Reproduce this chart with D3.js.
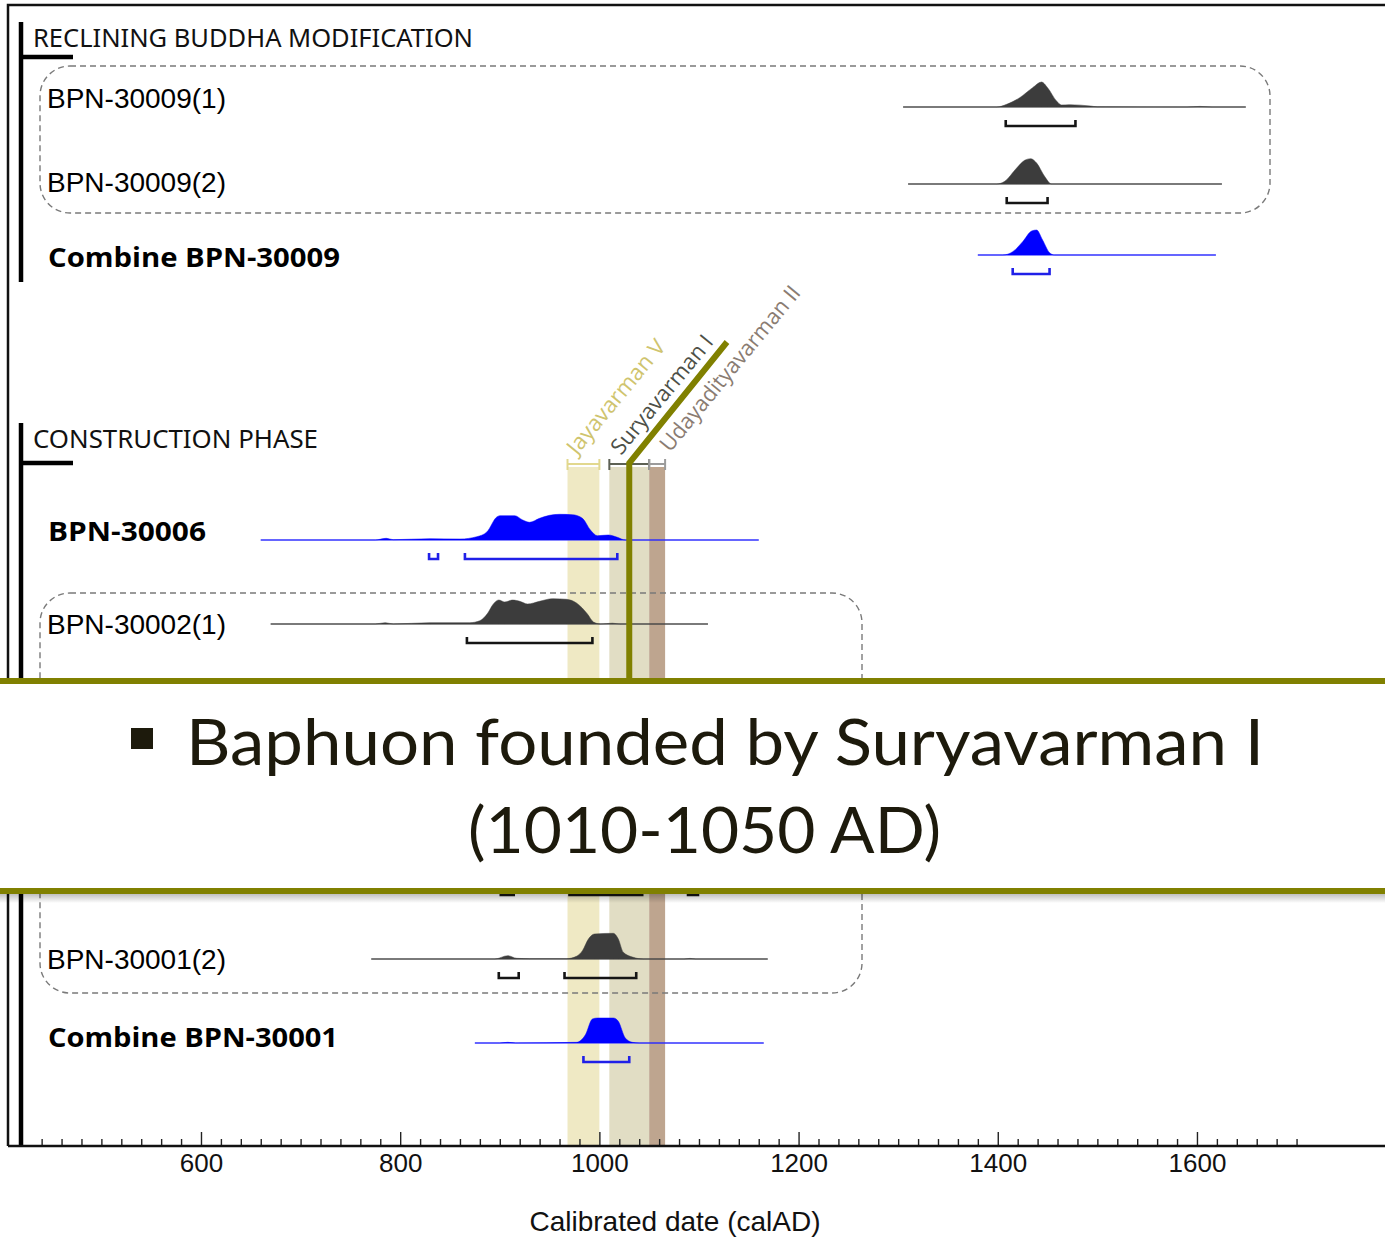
<!DOCTYPE html>
<html>
<head>
<meta charset="utf-8">
<script src="https://cdn.jsdelivr.net/npm/d3@7"></script>
<style>
body { margin: 0; background: #fff; }
svg { display: block; }
</style>
</head>
<body>
<svg id="chart" width="1385" height="1239"></svg>
<script>
// ---- data ----
var rowNames = ["BPN-30009(1)", "BPN-30009(2)", "Combine BPN-30009", "BPN-30006",
                "BPN-30002(1)", "BPN-30001(1)", "BPN-30001(2)", "Combine BPN-30001"];
var rowKinds = ["single", "single", "model", "model", "single", "single", "single", "model"];
var rowSpans = [[1305, 1649], [1310, 1625], [1380, 1619], [660, 1160],
                [670, 1109], null, [771, 1169], [875, 1165]];

// probability density, [calAD, relative density]
var dens30009a = [[1305,0],[1399,0],[1409,2.7],[1422,9.3],[1435,19.3],[1444,25],[1450,19.3],[1459,6],[1464,2],[1472,2.3],[1493,1],[1500,0.2],[1590,0],[1603,0.6],[1615,0],[1649,0]];
var dens30009b = [[1310,0],[1399,0],[1407,2.7],[1419,16],[1427,23.7],[1433,25.3],[1439,21],[1447,7.7],[1454,0],[1625,0]];
var densComb30009 = [[1380,0],[1405,0],[1415,3.3],[1425,13.3],[1434,24],[1439,25],[1445,15],[1452,2.3],[1457,0],[1619,0]];
var dens30006 = [[660,0],[775,0],[786,1.7],[793,0.3],[830,1.3],[860,1],[877,3.3],[887,8],[897,23],[900,24.3],[915,24.3],[923,20],[930,17.7],[940,21.7],[950,24.7],[960,25.7],[973,25.3],[983,21.7],[991,10],[998,4.3],[1009,5],[1018,2.7],[1026,0],[1160,0]];
var dens30002a = [[670,0],[775,0],[785,1.3],[793,0],[830,1.3],[870,1.3],[880,3.3],[888,11],[893,19.3],[899,24],[905,22],[913,24],[920,22.7],[928,20],[940,22.7],[953,25.3],[967,24.7],[977,21],[988,10],[994,2],[1001,0],[1013,0.8],[1021,0],[1109,0]];
var dens30001b = [[771,0],[895,0],[908,3.3],[917,0.7],[930,0.3],[967,0.3],[977,2.7],[983,8.3],[989,20],[995,25],[1014,25.7],[1019,20],[1024,6.7],[1034,1.7],[1044,0],[1085,0],[1091,0.6],[1097,0],[1169,0]];
var densComb30001 = [[875,0],[900,0],[908,0.7],[916,0],[977,0.7],[986,8.3],[993,24],[998,25],[1014,25],[1019,21.7],[1026,5],[1033,0.7],[1040,0],[1165,0]];
var rowDensities = [dens30009a, dens30009b, densComb30009, dens30006, dens30002a, null, dens30001b, densComb30001];

// highest posterior density ranges
var rowRanges = [[[1408,1478]], [[1409,1450]], [[1415,1452]], [[829,838],[865,1018]],
                 [[867,993]], [[901,914],[970,1043],[1089,1099]], [[899,919],[965,1037]], [[984,1030]]];

var groupNames = ["RECLINING BUDDHA MODIFICATION", "CONSTRUCTION PHASE"];

var reignNames = ["Jayavarman V", "Suryavarman I", "Udayadityavarman II"];
var reignStart = [968, 1010, 1050];
var reignEnd = [1000, 1050, 1066];
var foundingYear = 1030;

var majorTicks = [600, 800, 1000, 1200, 1400, 1600];
var minorTicks = d3.range(440, 1701, 20).filter(function (d) { return majorTicks.indexOf(d) < 0; });

var axisTitle = "Calibrated date (calAD)";
var bannerLine1 = "Baphuon founded by Suryavarman I";
var bannerLine2 = "(1010-1050 AD)";

// ---- layout ----
var rowY = [107, 184, 255, 540, 624, 876, 959, 1043];
var labelY = [108, 192, 267, 541, 634, 886, 969, 1047];
var boldWidth = { "Combine BPN-30009": 292, "BPN-30006": 158, "Combine BPN-30001": 290 };
var axisY = 1146;

var svg = d3.select("#chart");
var x = d3.scaleLinear().domain([398.2, 1788.8]).range([0, 1385]);
var h = d3.scaleLinear().domain([0, 26]).range([0, 26]);

// reign bands
var reignFill = ["#efe9c4", "#e1ddc4", "#bea58f"];
var reignTick = ["#e2d88e", "#5d6154", "#9b9b9b"];
var reignText = ["#cfc46e", "#4d5047", "#8a7c72"];
var reignLen = [141, 147, 207];
var reignAnchor = [[577, 456], [621, 456], [670, 453]];

reignNames.forEach(function (name, i) {
    svg.append("rect")
        .attr("x", x(reignStart[i]))
        .attr("y", 467)
        .attr("width", x(reignEnd[i]) - x(reignStart[i]))
        .attr("height", axisY - 467)
        .style("fill", reignFill[i]);
    svg.append("path")
        .attr("d", "M" + x(reignStart[i]) + ",459V470M" + x(reignStart[i]) + ",464H" + x(reignEnd[i]) + "M" + x(reignEnd[i]) + ",459V470")
        .style("fill", "none")
        .style("stroke", reignTick[i])
        .style("stroke-width", 2);
    svg.append("text")
        .attr("transform", "translate(" + reignAnchor[i][0] + "," + reignAnchor[i][1] + ") rotate(-50.5)")
        .attr("textLength", reignLen[i])
        .attr("lengthAdjust", "spacingAndGlyphs")
        .style("font-family", "'Open Sans', sans-serif")
        .style("font-size", "22px")
        .style("fill", reignText[i])
        .text(name);
});

// dashed group boxes
svg.append("rect").attr("x", 40).attr("y", 66).attr("width", 1230).attr("height", 147)
    .attr("rx", 30).attr("ry", 30)
    .style("fill", "none").style("stroke", "#7a7a7a").style("stroke-width", 1.4).style("stroke-dasharray", "6,4");
svg.append("rect").attr("x", 40).attr("y", 593).attr("width", 822).attr("height", 400)
    .attr("rx", 30).attr("ry", 30)
    .style("fill", "none").style("stroke", "#7a7a7a").style("stroke-width", 1.4).style("stroke-dasharray", "6,4");

// distributions
rowNames.forEach(function (name, i) {
    var y0 = rowY[i];
    var blue = rowKinds[i] === "model";
    var fillCol = blue ? "#0000ff" : "#3c3c3c";
    var lineCol = blue ? "#6a6aff" : "#555";

    if (rowSpans[i]) {
        svg.append("line")
            .attr("x1", x(rowSpans[i][0])).attr("x2", x(rowSpans[i][1]))
            .attr("y1", y0).attr("y2", y0)
            .style("stroke", lineCol).style("stroke-width", 1.2);
    }
    if (rowDensities[i]) {
        var area = d3.area()
            .x(function (d) { return x(d[0]); })
            .y0(y0)
            .y1(function (d) { return y0 - h(d[1]); })
            .curve(d3.curveMonotoneX);
        svg.append("path")
            .datum(rowDensities[i])
            .attr("d", area)
            .style("fill", fillCol)
            .style("stroke", fillCol)
            .style("stroke-width", 0.5);
    }
    var by = y0 + 19;
    rowRanges[i].forEach(function (r) {
        svg.append("path")
            .attr("d", "M" + x(r[0]) + "," + (by - 6) + "V" + by + "H" + x(r[1]) + "V" + (by - 6))
            .style("fill", "none")
            .style("stroke", blue ? "#2020e8" : "#151515")
            .style("stroke-width", 2.6);
    });

    var lab = svg.append("text")
        .attr("x", blue ? 48 : 47)
        .attr("y", labelY[i])
        .style("fill", "#000")
        .text(name);
    if (blue) {
        lab.style("font-family", "'Open Sans', sans-serif")
            .style("font-weight", "bold")
            .style("font-size", "26px")
            .attr("textLength", boldWidth[name])
            .attr("lengthAdjust", "spacingAndGlyphs");
    } else {
        lab.style("font-family", "'Liberation Sans', Arial, sans-serif")
            .style("font-size", "28px");
    }
});

// founding line
svg.append("path")
    .attr("d", "M" + x(foundingYear) + ",700V463L727,342")
    .style("fill", "none")
    .style("stroke", "#808000")
    .style("stroke-width", 6);

// frame and group markers
svg.append("path").attr("d", "M1385,5H8V" + axisY)
    .style("fill", "none").style("stroke", "#111").style("stroke-width", 2.5);
svg.append("path").attr("d", "M21,22V282M21,57H73")
    .style("fill", "none").style("stroke", "#000").style("stroke-width", 4.5);
svg.append("path").attr("d", "M21,423V" + axisY + "M21,463H73")
    .style("fill", "none").style("stroke", "#000").style("stroke-width", 4.5);

var titleLen = [440, 285];
var titleY = [47, 448];
groupNames.forEach(function (g, i) {
    svg.append("text")
        .attr("x", 33).attr("y", titleY[i])
        .attr("textLength", titleLen[i])
        .attr("lengthAdjust", "spacingAndGlyphs")
        .style("font-family", "'Noto Sans', sans-serif")
        .style("font-size", "25px")
        .style("fill", "#111")
        .text(g);
});

// axis
var axisG = svg.append("g").attr("transform", "translate(0," + axisY + ")");
axisG.append("g")
    .call(d3.axisBottom(x).tickValues(minorTicks).tickSizeInner(-7).tickSizeOuter(0).tickFormat(""))
    .call(function (g) { g.select(".domain").remove(); });
axisG.append("g")
    .call(d3.axisBottom(x).tickValues(majorTicks).tickSizeInner(-14).tickSizeOuter(0).tickPadding(8).tickFormat(d3.format("d")))
    .call(function (g) { g.select(".domain").remove(); });
axisG.selectAll(".tick line").style("stroke", "#222").style("stroke-width", 1.4);
axisG.selectAll(".tick text")
    .style("font-family", "'Liberation Sans', Arial, sans-serif")
    .style("font-size", "26px")
    .style("fill", "#111");
axisG.append("line").attr("x1", 8).attr("x2", 1385).attr("y1", 0).attr("y2", 0)
    .style("stroke", "#111").style("stroke-width", 2.5);

svg.append("text")
    .attr("x", 675).attr("y", 1231)
    .attr("text-anchor", "middle")
    .style("font-family", "'Liberation Sans', Arial, sans-serif")
    .style("font-size", "28px")
    .style("fill", "#111")
    .text(axisTitle);

// overlay banner
var defs = svg.append("defs");
var grad = defs.append("linearGradient").attr("id", "shade").attr("x1", 0).attr("x2", 0).attr("y1", 0).attr("y2", 1);
grad.append("stop").attr("offset", "0%").attr("stop-color", "#000").attr("stop-opacity", 0.28);
grad.append("stop").attr("offset", "100%").attr("stop-color", "#000").attr("stop-opacity", 0);

svg.append("rect").attr("x", 0).attr("y", 893).attr("width", 1385).attr("height", 10).style("fill", "url(#shade)");
svg.append("rect").attr("x", 0).attr("y", 680).attr("width", 1385).attr("height", 211).style("fill", "#fff");
svg.append("rect").attr("x", 0).attr("y", 678).attr("width", 1385).attr("height", 6).style("fill", "#808000");
svg.append("rect").attr("x", 0).attr("y", 888).attr("width", 1385).attr("height", 6).style("fill", "#808000");

svg.append("rect").attr("x", 131).attr("y", 728).attr("width", 22).attr("height", 21).style("fill", "#1d1a0c");
svg.append("text")
    .attr("x", 186).attr("y", 765)
    .attr("textLength", 1078)
    .attr("lengthAdjust", "spacingAndGlyphs")
    .style("font-family", "Lato, sans-serif")
    .style("font-size", "63px")
    .style("fill", "#1d1a0c")
    .text(bannerLine1);
svg.append("text")
    .attr("x", 468).attr("y", 853)
    .attr("textLength", 473)
    .attr("lengthAdjust", "spacingAndGlyphs")
    .style("font-family", "Lato, sans-serif")
    .style("font-size", "63px")
    .style("fill", "#1d1a0c")
    .text(bannerLine2);
</script>
</body>
</html>
